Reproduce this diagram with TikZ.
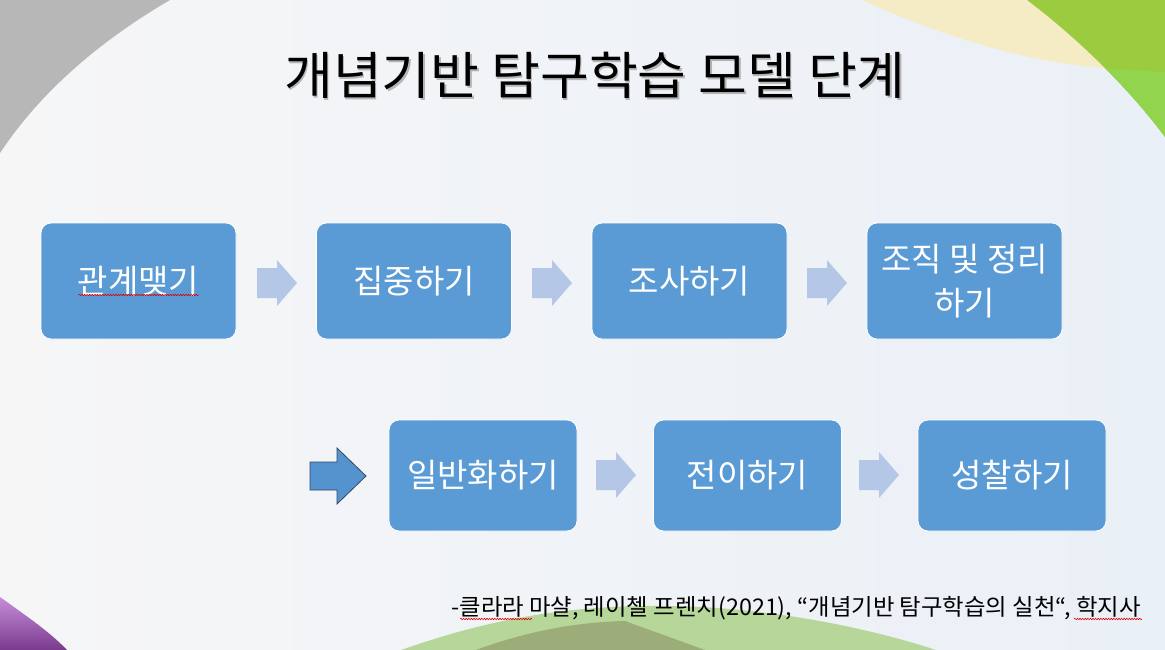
\documentclass[tikz,border=0pt]{standalone}
\usepackage{fontspec}
\setmainfont{Noto Sans CJK KR}
\usetikzlibrary{decorations.pathmorphing, calc}
\definecolor{bgL}{HTML}{F6F6F7}
\definecolor{bgR}{HTML}{EAF0F7}
\definecolor{graybg}{HTML}{B7B7B7}
\definecolor{yellowbg}{HTML}{F5ECC6}
\definecolor{greenbg}{HTML}{9BCB3E}
\definecolor{greenlt}{HTML}{93D44F}
\definecolor{purpledk}{HTML}{7B3A8E}
\definecolor{purplelt}{HTML}{C58ED9}
\definecolor{arcgreen}{HTML}{B7D79A}
\definecolor{arcolive}{HTML}{9DAD79}
\definecolor{boxblue}{HTML}{5B9BD5}
\definecolor{arrowlt}{HTML}{B4C7E7}
\definecolor{arrowdk}{HTML}{5593CF}
\definecolor{arrowedge}{HTML}{2E4A68}
\tikzset{
  stepbox/.style={draw=white, line width=0.8pt, fill=boxblue, rounded corners=10pt,
    text=white, align=center, font=\fontsize{33}{44}\selectfont, inner sep=0pt},
  toprow/.style={stepbox, minimum width=195pt, minimum height=116pt},
  botrow/.style={stepbox, minimum width=188pt, minimum height=111pt},
  lightarrow/.pic={\path[fill=arrowlt] (-20,-15) -- (0,-15) -- (0,-23) -- (20,0) -- (0,23) -- (0,15) -- (-20,15) -- cycle;},
  darkarrow/.pic={\path[fill=arrowdk, draw=arrowedge, line width=0.8pt] (-28,-14) -- (-1,-14) -- (-1,-28) -- (28,0) -- (-1,28) -- (-1,14) -- (-28,14) -- cycle;},
  squiggle/.style={draw=red!85!black, line width=0.6pt, decorate,
    decoration={snake, amplitude=0.7pt, segment length=2.6pt}},
  titlefont/.style={font=\fontsize{51}{56}\selectfont}
}
\begin{document}
\begin{tikzpicture}[x=1pt,y=-1pt]
\useasboundingbox (0,0) rectangle (1165,650);
% background
\shade[left color=bgL, right color=bgR] (0,0) rectangle (1165,650);
\fill[graybg] (0,0) -- (170,0) .. controls (110,35) and (45,85) .. (0,153) -- cycle;
\fill[yellowbg] (862,0) .. controls (950,40) and (1030,62) .. (1103,68) -- (1165,72) -- (1165,0) -- cycle;
\fill[greenbg] (1027,0) .. controls (1080,40) and (1130,90) .. (1165,137) -- (1165,0) -- cycle;
\begin{scope}
  \clip (1027,0) .. controls (1080,40) and (1130,90) .. (1165,137) -- (1165,0) -- cycle;
  \fill[greenlt] (1000,68) -- (1103,68) -- (1165,72) -- (1165,200) -- (1000,200) -- cycle;
\end{scope}
\shade[top color=purplelt, bottom color=purpledk] (0,597) .. controls (25,615) and (50,632) .. (67,650) -- (0,650) -- cycle;
\fill[arcgreen] (401,650) .. controls (500,615) and (580,605) .. (669,606) .. controls (760,607) and (860,625) .. (936,650) -- cycle;
\fill[arcolive] (476,650) .. controls (530,630) and (580,622) .. (625,621) -- (705,650) -- cycle;
% title
\node[anchor=base, titlefont, xscale=1.04, text=black!45, opacity=0.6] at (596.5,96.5) {개념기반 탐구학습 모델 단계};
\node[anchor=base, titlefont, xscale=1.04] (title) at (595,95) {개념기반 탐구학습 모델 단계};
% boxes
\node[toprow] (b1) at (138.5,281) {관계맺기};
\node[toprow] (b2) at (414,281) {집중하기};
\node[toprow] (b3) at (689.5,281) {조사하기};
\node[toprow] (b4) at (964.5,281) {조직 및 정리\\하기};
\node[botrow] (b5) at (483,475.5) {일반화하기};
\node[botrow] (b6) at (747.5,475.5) {전이하기};
\node[botrow] (b7) at (1012,475.5) {성찰하기};
% arrows
\pic at (277,283) {lightarrow};
\pic at (552,283) {lightarrow};
\pic at (827,283) {lightarrow};
\pic at (338,476) {darkarrow};
\pic at (616,475) {lightarrow};
\pic at (879,475) {lightarrow};
% citation
\node[anchor=base east, font=\fontsize{23}{25}\selectfont, xscale=1.016, inner sep=0pt] (cite) at (1141,615) {-클라라 마샬, 레이첼 프렌치(2021), “개념기반 탐구학습의 실천“, 학지사};
% spell-check marks
\coordinate (s1a) at ($(b1.center)+(-60,14)$); \coordinate (s1b) at ($(b1.center)+(60,14)$);
\coordinate (s2a) at ($(cite.base west)+(9,4)$); \coordinate (s2b) at ($(cite.base west)+(81,4)$);
\coordinate (s3a) at ($(cite.base east)+(-67,4)$); \coordinate (s3b) at ($(cite.base east)+(1,4)$);
\draw[squiggle] (s1a) -- (s1b);
\draw[squiggle] (s2a) -- (s2b);
\draw[squiggle] (s3a) -- (s3b);
\end{tikzpicture}
\end{document}
